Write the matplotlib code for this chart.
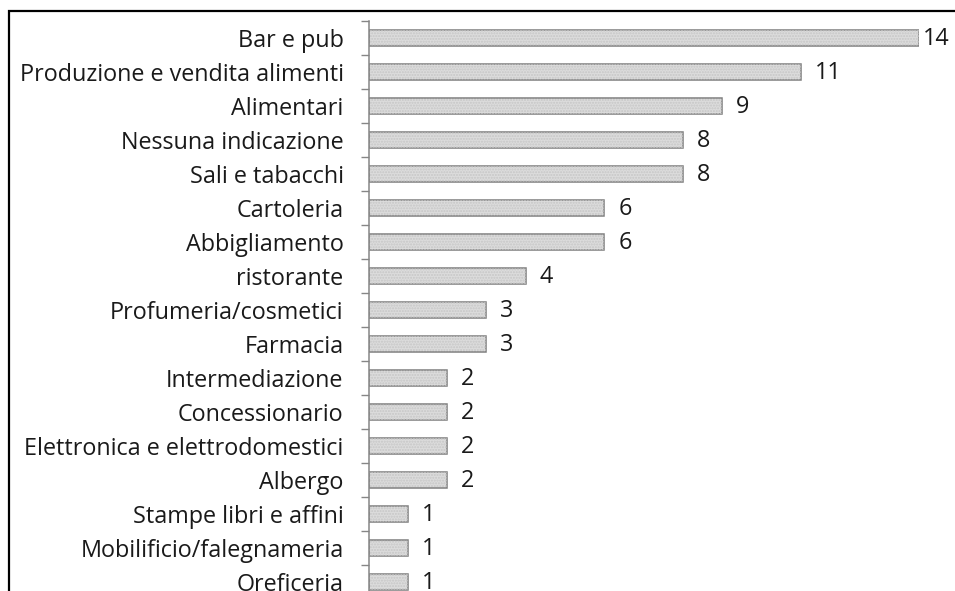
import matplotlib
matplotlib.use("Agg")
import matplotlib.pyplot as plt
from matplotlib.patches import Rectangle

# categories, top to bottom as drawn
categories = [
    "Bar e pub",
    "Produzione e vendita alimenti",
    "Alimentari",
    "Nessuna indicazione",
    "Sali e tabacchi",
    "Cartoleria",
    "Abbigliamento",
    "ristorante",
    "Profumeria/cosmetici",
    "Farmacia",
    "Intermediazione",
    "Concessionario",
    "Elettronica e elettrodomestici",
    "Albergo",
    "Stampe libri e affini",
    "Mobilificio/falegnameria",
    "Oreficeria",
]
counts = [14, 11, 9, 8, 8, 6, 6, 4, 3, 3, 2, 2, 2, 2, 1, 1, 1]

FONT = ["Open Sans", "DejaVu Sans"]
FS = 16.8
W, H = 955, 591

fig = plt.figure(figsize=(W / 100, H / 100), dpi=100)

# outer chart frame (cut off at the right and bottom of the picture)
fig.patches.append(Rectangle((8.5 / W, -0.05), 1.1, 1 - 11.5 / H + 0.05,
                             transform=fig.transFigure, fill=False,
                             edgecolor="black", linewidth=1.6))

# axes run a little past the bottom edge, like the cropped original
ax = fig.add_axes([368.5 / W, -8 / H, 550.5 / W, 578 / H])

pos = list(range(len(categories)))
ax.barh(pos, counts, height=0.46, color="#dcdcdc", edgecolor="#7f7f7f",
        linewidth=1.1, zorder=2)
# faint dotted texture inside the bars
ax.barh(pos, counts, height=0.46, color="none", edgecolor="#c6c6c6",
        hatch="......", linewidth=0, zorder=2)

top = max(counts)
for y, v in zip(pos, counts):
    # the longest bar's label gets squeezed against the frame, as in Excel
    off = 3 if v == top else 10
    ax.annotate(str(v), (v, y), xytext=(off, -1), textcoords="offset points",
                va="center", ha="left", fontsize=FS, family=FONT,
                color="#1a1a1a", annotation_clip=False)

ax.set_xlim(0, 14)
ax.set_ylim(len(categories) - 0.5, -0.5)
ax.set_yticks(pos)
ax.set_yticklabels(categories, family=FONT, fontsize=FS, color="#1a1a1a")
ax.tick_params(axis="y", which="major", length=0, pad=18)
# tick marks sit on the category boundaries
ax.set_yticks([p - 0.5 for p in pos] + [len(categories) - 0.5], minor=True)
ax.tick_params(axis="y", which="minor", length=6, color="#868686", width=1)
ax.set_xticks([])

for side in ("top", "right", "bottom"):
    ax.spines[side].set_visible(False)
ax.spines["left"].set_color("#868686")
ax.spines["left"].set_linewidth(1.1)
ax.patch.set_visible(False)

fig.savefig("out.png", dpi=100)
